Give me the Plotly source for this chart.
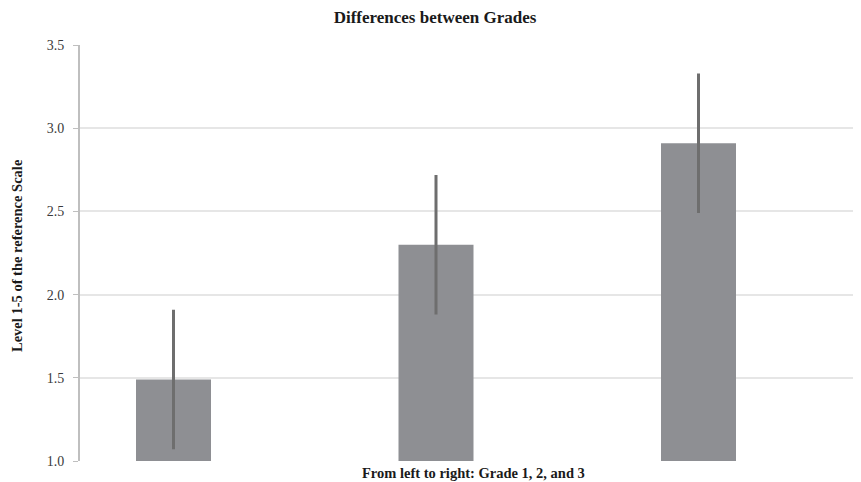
import plotly.graph_objects as go

categories = ["Grade 1", "Grade 2", "Grade 3"]
means = [1.49, 2.30, 2.91]
errors = [0.41, 0.41, 0.41]
y_ticks = [1.0, 1.5, 2.0, 2.5, 3.0, 3.5]

# page has an 8px body margin, so figure is 853x474 to fill the 861x482 window
OFF = 8
W, H = 861 - OFF, 482 - OFF
L, R, T = 80 - OFF, 0, 45 - OFF
B = H - (461 - OFF)
pw = W - L - R
ph = H - T - B
cat_px = 262.5
first_center = 173.5 - OFF

FONT = "Liberation Serif, DejaVu Serif, serif"

fig = go.Figure()
fig.add_trace(go.Bar(
    x=categories, y=means, width=75 / cat_px,
    marker=dict(color="#8e8f93", line=dict(width=0)),
    error_y=dict(type="data", array=errors, visible=True,
                 color="#6e6e6e", thickness=3, width=1.5),
))

fig.update_layout(
    width=W, height=H,
    margin=dict(l=L, r=R, t=T, b=B, autoexpand=False),
    paper_bgcolor="white", plot_bgcolor="white",
    showlegend=False,
    font=dict(family=FONT, color="#333333", size=14),
    title=dict(text="<b>Differences between Grades</b>",
               xref="container", x=(435 - OFF) / W, xanchor="center",
               yref="container", y=1 - (17 - OFF) / H, yanchor="middle",
               font=dict(family=FONT, size=17, color="#1a1a1a")),
    xaxis=dict(type="category",
               range=[-(first_center - L) / cat_px, (W - R - first_center) / cat_px],
               showticklabels=False, showgrid=False, zeroline=False,
               showline=False, ticks=""),
    yaxis=dict(range=[1.0, 3.5], tickvals=y_ticks, tickformat=".1f",
               showgrid=True, gridcolor="#e6e6e6", gridwidth=1.5,
               showline=True, linecolor="#bfbfbf", linewidth=2,
               ticks="outside", ticklen=5, tickcolor="#bfbfbf", tickwidth=1,
               ticklabelstandoff=6,
               zeroline=False,
               tickfont=dict(family=FONT, size=14, color="#3a3a3a")),
    annotations=[
        dict(text="<b>From left to right: Grade 1, 2, and 3</b>",
             xref="paper", yref="paper",
             x=(473 - OFF - L) / pw, y=-(473 - 461) / ph,
             xanchor="center", yanchor="middle", showarrow=False,
             font=dict(family=FONT, size=14.5, color="#1a1a1a")),
        dict(text="<b>Level 1-5 of the reference Scale</b>",
             xref="paper", yref="paper",
             x=(17 - OFF - L) / pw, y=0.5 - (256 - 253) / ph,
             xanchor="center", yanchor="middle", showarrow=False,
             textangle=-90,
             font=dict(family=FONT, size=14.5, color="#1a1a1a")),
    ],
)

fig.write_html("out.html")
